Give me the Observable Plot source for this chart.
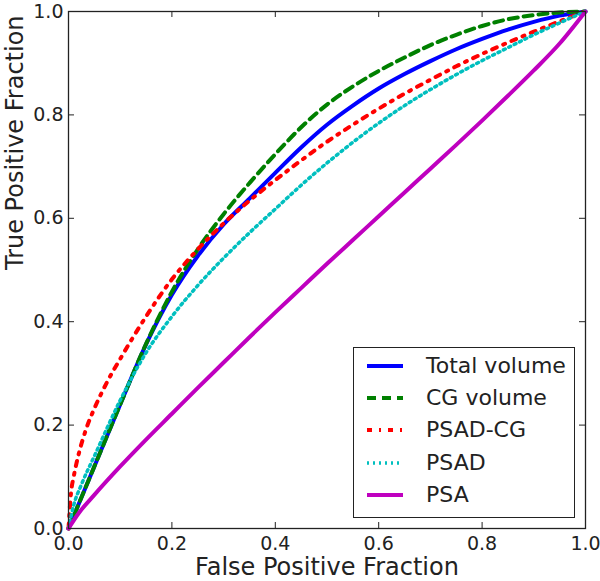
<!DOCTYPE html>
<html><head><meta charset="utf-8">
<script src="https://cdn.jsdelivr.net/npm/d3@7"></script>
<script src="https://cdn.jsdelivr.net/npm/@observablehq/plot@0.6"></script>
<style>
html,body{margin:0;padding:0;background:#fff;overflow:hidden;}
#wrap{position:relative;width:600px;height:581px;font-family:"DejaVu Sans",sans-serif;color:#222;}
#legend{position:absolute;left:353px;top:347px;width:222px;height:171px;border:1.3px solid #222;background:#fff;box-sizing:border-box;}
.row{position:absolute;left:0;height:32px;display:flex;align-items:center;}
.row svg{margin-left:13px;}
.row span{margin-left:23px;font-size:22px;line-height:32px;white-space:nowrap;}
</style>
</head><body>
<div id="wrap"><div id="legend"></div></div>
<script>
// Series names and styles
const seriesNames = ["Total volume", "CG volume", "PSAD-CG", "PSAD", "PSA"];
const seriesColors = ["#0000ff", "#008000", "#ff0000", "#00bfbf", "#bf00bf"];
const seriesDash = [null, "9,6", "5,7,2,7", "2,4", null];
const seriesWidth = [4, 4, 4, 3.5, 4];

// False positive fraction grid and true positive fraction per series
const fprGrid = [0, 0.05, 0.1, 0.15, 0.2, 0.25, 0.3, 0.35, 0.4, 0.45, 0.5, 0.55, 0.6, 0.65, 0.7, 0.75, 0.8, 0.85, 0.9, 0.95, 1];

const totalVolumeY = [0, 0.12, 0.24, 0.356, 0.452, 0.527, 0.588, 0.638, 0.688, 0.737, 0.781, 0.818, 0.851, 0.879, 0.904, 0.927, 0.947, 0.965, 0.98, 0.992, 1];
const cgVolumeY    = [0, 0.12, 0.24, 0.357, 0.458, 0.54, 0.608, 0.668, 0.724, 0.776, 0.82, 0.855, 0.885, 0.911, 0.935, 0.955, 0.972, 0.985, 0.993, 0.998, 1];

const psadCgX = [0, 0.005, 0.01, 0.02, 0.035, 0.05, 0.075, 0.1, 0.15, 0.2, 0.25, 0.3, 0.35, 0.4, 0.45, 0.5, 0.55, 0.6, 0.65, 0.7, 0.75, 0.8, 0.85, 0.9, 0.95, 1];
const psadCgY = [0, 0.07, 0.1, 0.145, 0.195, 0.232, 0.284, 0.328, 0.41, 0.482, 0.54, 0.59, 0.634, 0.674, 0.712, 0.748, 0.781, 0.812, 0.841, 0.868, 0.894, 0.918, 0.94, 0.961, 0.981, 1];

const psadX = [0, 0.01, 0.025, 0.05, 0.1, 0.15, 0.2, 0.25, 0.3, 0.35, 0.4, 0.45, 0.5, 0.55, 0.6, 0.65, 0.7, 0.75, 0.8, 0.85, 0.9, 0.95, 1];
const psadY = [0, 0.045, 0.085, 0.14, 0.248, 0.34, 0.41, 0.47, 0.523, 0.572, 0.618, 0.664, 0.707, 0.747, 0.784, 0.818, 0.849, 0.878, 0.905, 0.93, 0.955, 0.978, 1];

const psaX = [0, 0.02, 0.05, 0.1, 0.15, 0.2, 0.25, 0.3, 0.35, 0.4, 0.45, 0.5, 0.55, 0.6, 0.65, 0.7, 0.75, 0.8, 0.85, 0.9, 0.95, 1];
const psaY = [0, 0.03, 0.065, 0.12, 0.172, 0.222, 0.272, 0.321, 0.37, 0.418, 0.465, 0.512, 0.558, 0.604, 0.65, 0.696, 0.742, 0.789, 0.837, 0.886, 0.938, 1];

const tickValues = [0, 0.2, 0.4, 0.6, 0.8, 1.0];
const xTitle = "False Positive Fraction";
const yTitle = "True Positive Fraction";

const seriesXY = [[fprGrid, totalVolumeY], [fprGrid, cgVolumeY], [psadCgX, psadCgY], [psadX, psadY], [psaX, psaY]];
const seriesData = seriesXY.map(([xs, ys]) => xs.map((x, i) => ({x, y: ys[i]})));

const fmt = d3.format(".1f");
const frameSize = 517; // inner plot size in px (600-68-15, 581-11-53)
const tickLen = 6;

const lineMarks = seriesData.map((data, i) => Plot.line(data, {
  x: "x", y: "y", curve: "monotone-x",
  stroke: seriesColors[i], strokeWidth: seriesWidth[i],
  strokeDasharray: seriesDash[i] || undefined
}));

const chart = Plot.plot({
  width: 600, height: 581,
  marginLeft: 68, marginRight: 15, marginTop: 11, marginBottom: 53,
  x: {domain: [0, 1]},
  y: {domain: [0, 1]},
  style: {fontFamily: "DejaVu Sans, sans-serif", color: "#222", background: "white", overflow: "visible"},
  marks: [
    ...lineMarks,
    // inward ticks on all four sides
    Plot.tickX(tickValues, {x: d => d, insetTop: frameSize - tickLen, stroke: "#222"}),
    Plot.tickX(tickValues, {x: d => d, insetBottom: frameSize - tickLen, stroke: "#222"}),
    Plot.tickY(tickValues, {y: d => d, insetRight: frameSize - tickLen, stroke: "#222"}),
    Plot.tickY(tickValues, {y: d => d, insetLeft: frameSize - tickLen, stroke: "#222"}),
    Plot.frame({stroke: "#222", strokeWidth: 1.3}),
    Plot.axisX(tickValues, {anchor: "bottom", tickSize: 0, tickPadding: 8, tickFormat: fmt, fontSize: 19, label: null}),
    Plot.axisY(tickValues, {anchor: "left", tickSize: 0, tickPadding: 5, tickFormat: fmt, fontSize: 19, label: null}),
    Plot.text([xTitle], {frameAnchor: "bottom", dy: 39, fontSize: 24, lineAnchor: "middle", fill: "#222"}),
    Plot.text([yTitle], {frameAnchor: "left", dx: -53, rotate: -90, fontSize: 24, lineAnchor: "middle", fill: "#222"})
  ]
});
document.getElementById("wrap").prepend(chart);

// Legend
const legend = document.getElementById("legend");
const rowCenters = [19, 51, 83, 116, 148];
seriesNames.forEach((name, i) => {
  const row = document.createElement("div");
  row.className = "row";
  row.style.top = (rowCenters[i] - 16 - 1) + "px";
  const dash = seriesDash[i] ? `stroke-dasharray="${seriesDash[i]}"` : "";
  row.innerHTML = `<svg width="36" height="10"><line x1="0" y1="5" x2="36" y2="5" stroke="${seriesColors[i]}" stroke-width="${seriesWidth[i]}" ${dash}/></svg><span>${name}</span>`;
  legend.appendChild(row);
});
</script>
</body></html>
